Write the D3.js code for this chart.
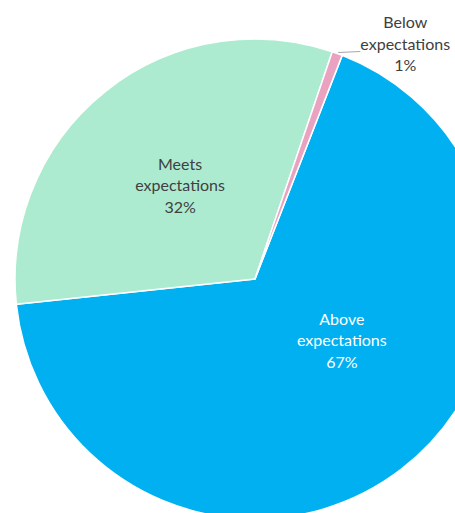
<!DOCTYPE html>
<html>
<head>
<meta charset="utf-8">
<script src="https://cdn.jsdelivr.net/npm/d3@7"></script>
<style>
  body { margin: 0; background: #fff; }
  text { font-family: Lato, "Open Sans", sans-serif; font-size: 16px; }
</style>
</head>
<body>
<svg id="canvas" width="455" height="513"></svg>
<script>
let categories = ['Above expectations', 'Meets expectations', 'Below expectations']
let values = [67.4, 31.9, 0.7]
const COLORS = ['#00B0F0', '#ADEBD1', '#E9A3C1']
const TEXT_COLORS = ['#ffffff', '#404040', '#404040']

let canvas = d3.select('#canvas')

let cx = 255, cy = 279, radius = 240
let firstAngle = 21.3 * Math.PI / 180

let slices = d3.pie()
    .sort(null)
    .startAngle(firstAngle)
    .endAngle(firstAngle + 2 * Math.PI)
    (values)

let arc = d3.arc().innerRadius(0).outerRadius(radius)
let labelArc = d3.arc().innerRadius(radius * 0.5).outerRadius(radius * 0.5)
let edgeArc = d3.arc().innerRadius(radius).outerRadius(radius)

let pie = canvas.append('g')
    .attr('transform', 'translate(' + cx + ',' + cy + ')')

pie.selectAll('path')
    .data(slices)
    .enter()
    .append('path')
    .attr('d', arc)
    .attr('fill', (d, i) => COLORS[i])
    .attr('stroke', '#ffffff')
    .attr('stroke-width', 1.5)
    .attr('stroke-linejoin', 'round')

// label position for each slice; the tiny one goes outside with a leader line
let labelPos = (d, i) => {
    if (i === 2) {
        let p = edgeArc.centroid(d)
        return [p[0] + 68, p[1] - 10]
    }
    let p = labelArc.centroid(d)
    if (i === 0) return [p[0] + 14, p[1] - 34]
    return p
}

let small = slices[2]
let start = edgeArc.centroid(small)
pie.append('line')
    .attr('x1', start[0] + 1)
    .attr('y1', start[1] - 1)
    .attr('x2', start[0] + 23)
    .attr('y2', start[1] - 2)
    .attr('stroke', '#A6A6A6')
    .attr('stroke-width', 1)

let labels = pie.selectAll('text.label')
    .data(slices)
    .enter()
    .append('text')
    .attr('class', 'label')
    .attr('text-anchor', 'middle')
    .attr('fill', (d, i) => TEXT_COLORS[i])
    .attr('transform', (d, i) => 'translate(' + labelPos(d, i) + ')')

labels.selectAll('tspan')
    .data((d, i) => {
        let words = categories[i].split(' ')
        return [words[0], words[1], Math.round(d.value) + '%']
    })
    .enter()
    .append('tspan')
    .attr('x', 0)
    .attr('y', (d, i) => (i - 1) * 21.5 + 6)
    .text(d => d)
</script>
</body>
</html>
